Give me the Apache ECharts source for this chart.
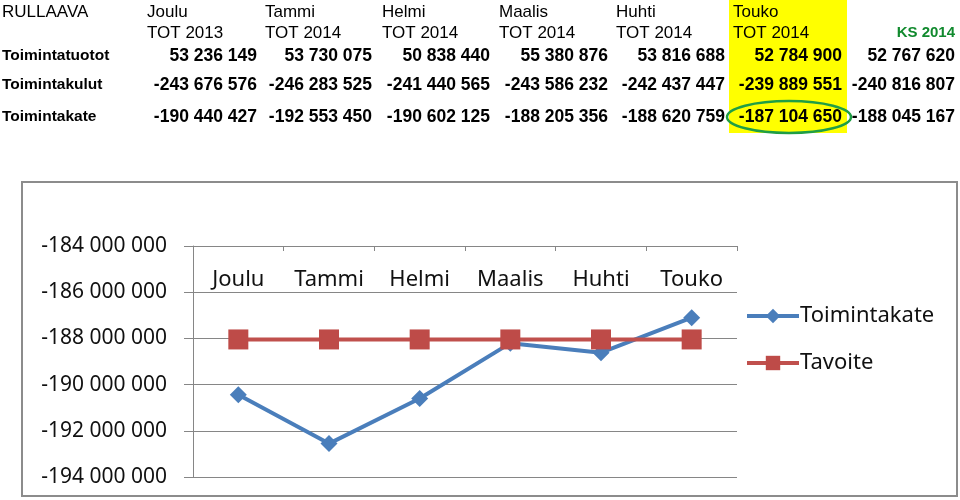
<!DOCTYPE html>
<html>
<head>
<meta charset="utf-8">
<script src="https://cdn.jsdelivr.net/npm/echarts@6/dist/echarts.min.js"></script>
<style>
  html, body { margin: 0; padding: 0; background: #fff; }
  #main { width: 960px; height: 500px; }
</style>
</head>
<body>
<div id="main"></div>
<script>
// ===== 数据 =====
const months = ['Joulu', 'Tammi', 'Helmi', 'Maalis', 'Huhti', 'Touko'];
const periods = ['TOT 2013', 'TOT 2014', 'TOT 2014', 'TOT 2014', 'TOT 2014', 'TOT 2014'];
const budgetLabel = 'KS 2014';
const rowNames = ['Toimintatuotot', 'Toimintakulut', 'Toimintakate'];
// 6 kuukautta + KS 2014
const tuotot = [53236149, 53730075, 50838440, 55380876, 53816688, 52784900, 52767620];
const kulut = [-243676576, -246283525, -241440565, -243586232, -242437447, -239889551, -240816807];
const kate = [-190440427, -192553450, -190602125, -188205356, -188620759, -187104650, -188045167];

// 图表系列
const toimintakate = [-190440427, -192553450, -190602125, -188205356, -188620759, -187104650];
const tavoite = [-188045167, -188045167, -188045167, -188045167, -188045167, -188045167];

// ===== 工具函数：千位空格分隔 =====
const fmt = (v) => {
  const s = Math.abs(Math.round(v)).toString().replace(/\B(?=(\d{3})+(?!\d))/g, ' ');
  return (v < 0 ? '-' : '') + s;
};

// ===== 表格（graphic 文本） =====
const headX = [147, 265, 382, 499, 616, 733];
const valRight = [257, 372, 490, 608, 725, 842, 955];
const rowY = [56, 85, 117];
const tableFont = 'Liberation Sans, Arial, sans-serif';

const graphics = [];
// 黄色高亮列
graphics.push({ type: 'rect', shape: { x: 729, y: 0, width: 118, height: 133 }, style: { fill: '#ffff00' }, z: 0 });
graphics.push({
  type: 'text', style: { text: 'RULLAAVA', x: 2, y: 12, font: '17px ' + tableFont, fill: '#000', verticalAlign: 'middle' }
});
months.forEach((m, i) => {
  graphics.push({ type: 'text', style: { text: m, x: headX[i], y: 12, font: '17px ' + tableFont, fill: '#000', verticalAlign: 'middle' } });
  graphics.push({ type: 'text', style: { text: periods[i], x: headX[i], y: 33, font: '17px ' + tableFont, fill: '#000', verticalAlign: 'middle' } });
});
graphics.push({
  type: 'text', style: { text: budgetLabel, x: 955, y: 33, font: 'bold 15px ' + tableFont, fill: '#118a2e', align: 'right', verticalAlign: 'middle' }
});
[tuotot, kulut, kate].forEach((row, r) => {
  graphics.push({ type: 'text', style: { text: rowNames[r], x: 2, y: rowY[r], font: 'bold 15.5px ' + tableFont, fill: '#000', verticalAlign: 'middle' } });
  row.forEach((v, i) => {
    graphics.push({
      type: 'text', z: 2,
      style: { text: fmt(v), x: valRight[i], y: rowY[r], font: 'bold 17.5px ' + tableFont, fill: '#000', align: 'right', verticalAlign: 'middle' }
    });
  });
});
// 绿色椭圆
graphics.push({
  type: 'ellipse', z: 3,
  shape: { cx: 789, cy: 117, rx: 62, ry: 16 },
  style: { fill: 'none', stroke: '#1f9e45', lineWidth: 2.5 }
});
// 图表外框
graphics.push({
  type: 'rect', shape: { x: 22, y: 182, width: 935, height: 314 },
  style: { fill: 'none', stroke: '#8c8c8c', lineWidth: 2 }
});

const chartFont = 'Noto Sans';
const chart = echarts.init(document.getElementById('main'));
chart.setOption({
  animation: false,
  graphic: graphics,
  grid: { left: 193, right: 223, top: 246, bottom: 23 },
  legend: {
    orient: 'vertical',
    left: 745,
    top: 305,
    padding: 0,
    itemWidth: 52,
    itemHeight: 18,
    itemGap: 25,
    data: ['Toimintakate', 'Tavoite'],
    lineStyle: { width: 4 },
    textStyle: { fontSize: 22, fontFamily: chartFont, color: '#111', padding: [0, 0, 0, -4] }
  },
  xAxis: {
    type: 'category',
    position: 'top',
    data: months,
    boundaryGap: true,
    axisLine: { lineStyle: { color: '#868686', width: 1 } },
    axisTick: { show: true, inside: true, length: 5, lineStyle: { color: '#868686' } },
    axisLabel: { inside: true, margin: 23, fontSize: 22, fontFamily: chartFont, color: '#111' },
    splitLine: { show: false }
  },
  yAxis: {
    type: 'value',
    min: -194000000,
    max: -184000000,
    interval: 2000000,
    axisLine: { show: true, lineStyle: { color: '#868686', width: 1 } },
    axisTick: { show: true, length: 9, lineStyle: { color: '#868686' } },
    axisLabel: { margin: 26, fontSize: 21, fontFamily: chartFont, color: '#111', formatter: (v) => fmt(v) },
    splitLine: { lineStyle: { color: '#868686', width: 1 } }
  },
  series: [
    {
      name: 'Toimintakate',
      type: 'line',
      data: toimintakate,
      symbol: 'diamond',
      symbolSize: [17, 17],
      lineStyle: { color: '#4a7ebb', width: 4 },
      itemStyle: { color: '#4a7ebb' }
    },
    {
      name: 'Tavoite',
      type: 'line',
      data: tavoite,
      symbol: 'rect',
      symbolSize: 20,
      lineStyle: { color: '#c0504d', width: 4 },
      itemStyle: { color: '#be4b48' }
    }
  ]
});
</script>
</body>
</html>
